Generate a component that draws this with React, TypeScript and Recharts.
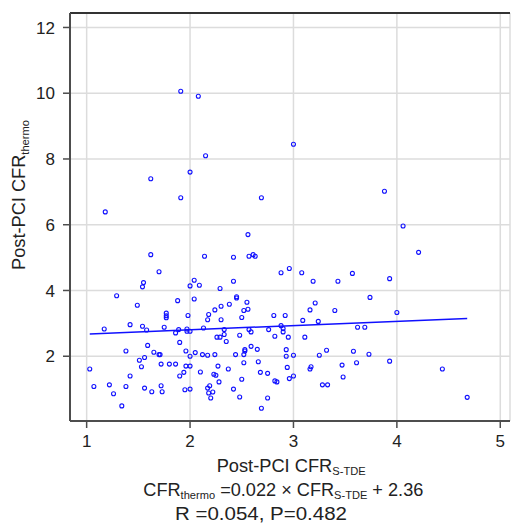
import React from 'react';
import { ScatterChart, Scatter, XAxis, YAxis, CartesianGrid, ReferenceLine } from 'recharts';

const cfrSTDE = [
  1.91, 2.08, 2.15, 2.0, 1.62, 1.91, 2.69, 1.18, 3.0, 3.88, 4.06,
  2.56, 1.62, 2.14, 2.42, 2.57, 2.61, 2.63, 1.7, 2.88, 2.96, 2.04, 1.55, 1.54, 2.0, 2.09,
  2.42, 2.29, 1.29, 2.04, 2.45, 2.45, 1.88, 2.55, 1.49, 2.38, 2.3, 2.56, 2.52, 2.24,
  1.77, 1.77, 1.77, 2.18, 1.98, 2.5, 2.81, 2.92, 2.17, 2.3, 1.75, 1.42, 1.54, 1.58,
  1.17, 1.89, 1.97, 1.97, 2.0, 1.86, 2.13, 2.33, 2.33, 2.57, 2.59, 2.76, 2.88, 2.9,
  2.48, 2.26, 2.29, 2.82, 2.95, 2.35, 1.9, 1.59, 2.59, 2.53, 2.53, 2.65, 1.38, 1.65,
  1.7, 1.71, 1.96, 2.05, 2.0, 2.12, 2.17, 2.24, 2.44, 2.52, 2.93, 2.93, 1.56, 1.51,
  1.53, 1.72, 1.8, 1.86, 1.96, 2.0, 2.27, 2.37, 2.52, 2.66, 2.94, 1.03, 1.42, 1.94,
  1.9, 2.1, 2.23, 2.25, 2.28, 2.5, 2.68, 2.75, 2.82, 2.84, 2.96, 1.07, 1.22, 1.38,
  1.56, 1.72, 1.73, 1.63, 1.26, 1.95, 2.0, 2.17, 2.19, 2.18, 2.22, 2.2, 2.42, 2.48,
  2.75, 1.34, 2.69,
  4.21, 3.08, 3.19, 3.43, 3.57, 3.93, 3.74, 3.21, 3.16, 3.4, 4.0, 3.09, 3.24, 2.9,
  3.62, 3.69, 3.11, 3.32, 3.58, 3.0, 3.25, 3.73, 3.17, 3.16, 3.47, 3.61, 3.93, 4.44,
  3.0, 3.48, 3.28, 3.33, 4.68,
];

const cfrThermo = [
  10.06, 9.91, 8.1, 7.6, 7.4, 6.82, 6.82, 6.39, 8.45, 7.02, 5.96,
  5.7, 5.09, 5.04, 5.01, 5.04, 5.09, 5.04, 4.57, 4.54, 4.67, 4.31, 4.24, 4.11, 4.14, 4.16,
  4.28, 4.06, 3.84, 3.74, 3.81, 3.77, 3.69, 3.64, 3.55, 3.58, 3.52, 3.43, 3.39, 3.41,
  3.31, 3.23, 3.17, 3.27, 3.24, 3.18, 3.24, 3.24, 3.11, 3.11, 2.88, 2.96, 2.91, 2.8,
  2.83, 2.81, 2.83, 2.76, 2.76, 2.71, 2.86, 2.81, 2.66, 2.81, 2.74, 2.81, 2.93, 2.74,
  2.64, 2.58, 2.58, 2.61, 2.58, 2.45, 2.42, 2.33, 2.3, 2.2, 2.16, 2.21, 2.16, 2.12,
  2.05, 2.05, 2.16, 2.11, 2.0, 2.05, 2.03, 2.05, 2.05, 2.05, 2.2, 2.0, 1.96, 1.88,
  1.68, 1.76, 1.76, 1.76, 1.7, 1.7, 1.7, 1.61, 1.8, 1.83, 1.66, 1.61, 1.4, 1.51,
  1.4, 1.52, 1.45, 1.42, 1.22, 1.3, 1.51, 1.48, 1.25, 1.22, 1.32, 1.08, 1.13, 1.08,
  1.03, 1.1, 0.92, 0.92, 0.86, 0.98, 1.0, 1.03, 1.1, 0.88, 0.91, 0.73, 1.0, 0.76,
  0.73, 0.49, 0.42,
  5.16, 4.54, 4.28, 4.28, 4.52, 4.36, 3.79, 3.62, 3.41, 3.39, 3.33, 3.09, 3.06, 2.84,
  2.88, 2.88, 2.58, 2.18, 2.15, 2.03, 2.03, 2.06, 1.68, 1.61, 1.73, 1.8, 1.85, 1.61,
  1.4, 1.37, 1.13, 1.13, 0.75,
];

const fitX = [1.03, 4.68];
const fitY = [2.68, 3.15];

const xTicks = [1, 2, 3, 4, 5];
const yTicks = [2, 4, 6, 8, 10, 12];
const xDomain = [0.839, 5.094];
const yDomain = [0.03, 12.44];

const points = cfrSTDE.map((x, i) => ({ x, y: cfrThermo[i] }));
const fitLine = fitX.map((x, i) => ({ x, y: fitY[i] }));

const FONT = "'Liberation Sans', Arial, Helvetica, sans-serif";
const BLUE = '#1010ff';

const Ring = (p: any) => (
  <circle cx={p.cx} cy={p.cy} r={2} fill="none" stroke={BLUE} strokeWidth={1.1} />
);
const NoDot = () => null;

export default function App() {
  const sub = { fontSize: 11 } as const;
  return (
    <div style={{ position: 'absolute', left: 0, top: 0, width: 515, height: 527, background: '#fff', fontFamily: FONT }}>
      <ScatterChart
        width={515}
        height={527}
        margin={{ top: 13, right: 5, bottom: 76, left: 10 }}
      >
        <CartesianGrid stroke="#dcdcdc" strokeWidth={1.5} />
        <XAxis
          type="number"
          dataKey="x"
          domain={xDomain}
          ticks={xTicks}
          allowDataOverflow
          height={30}
          tickSize={7}
          tickMargin={7}
          axisLine={{ stroke: '#4d4d4d', strokeWidth: 2 }}
          tickLine={{ stroke: '#4d4d4d', strokeWidth: 1.5 }}
          tick={{ fontSize: 17, fill: '#222', fontFamily: FONT }}
        />
        <YAxis
          type="number"
          dataKey="y"
          domain={yDomain}
          ticks={yTicks}
          allowDataOverflow
          width={60}
          tickSize={7}
          tickMargin={8}
          axisLine={{ stroke: '#4d4d4d', strokeWidth: 2 }}
          tickLine={{ stroke: '#4d4d4d', strokeWidth: 1.5 }}
          tick={{ fontSize: 17, fill: '#222', fontFamily: FONT }}
        />
        <ReferenceLine y={yDomain[1]} stroke="#333" strokeWidth={2} />
        <Scatter data={points} shape={Ring} isAnimationActive={false} />
        <Scatter
          data={fitLine}
          line={{ stroke: BLUE, strokeWidth: 1.5 }}
          shape={NoDot}
          isAnimationActive={false}
        />
      </ScatterChart>
      <svg
        width={515}
        height={527}
        style={{ position: 'absolute', left: 0, top: 0, pointerEvents: 'none' }}
        fontFamily={FONT}
        fill="#222"
      >
        <text transform="translate(25,270) rotate(-90)" fontSize={18} textLength={150} lengthAdjust="spacingAndGlyphs">
          Post-PCI CFR<tspan {...sub} dy={4}>thermo</tspan>
        </text>
        <text x={216.7} y={472} fontSize={18} textLength={149} lengthAdjust="spacingAndGlyphs">
          Post-PCI CFR<tspan {...sub} dy={3}>S-TDE</tspan>
        </text>
        <text x={143.3} y={496} fontSize={18} textLength={280} lengthAdjust="spacingAndGlyphs">
          CFR<tspan {...sub} dy={3}>thermo</tspan>
          <tspan dy={-3}> =0.022 × CFR</tspan>
          <tspan {...sub} dy={3}>S-TDE</tspan>
          <tspan dy={-3}> + 2.36</tspan>
        </text>
        <text x={175} y={520} fontSize={18} textLength={172} lengthAdjust="spacingAndGlyphs">
          R =0.054, P=0.482
        </text>
      </svg>
    </div>
  );
}
